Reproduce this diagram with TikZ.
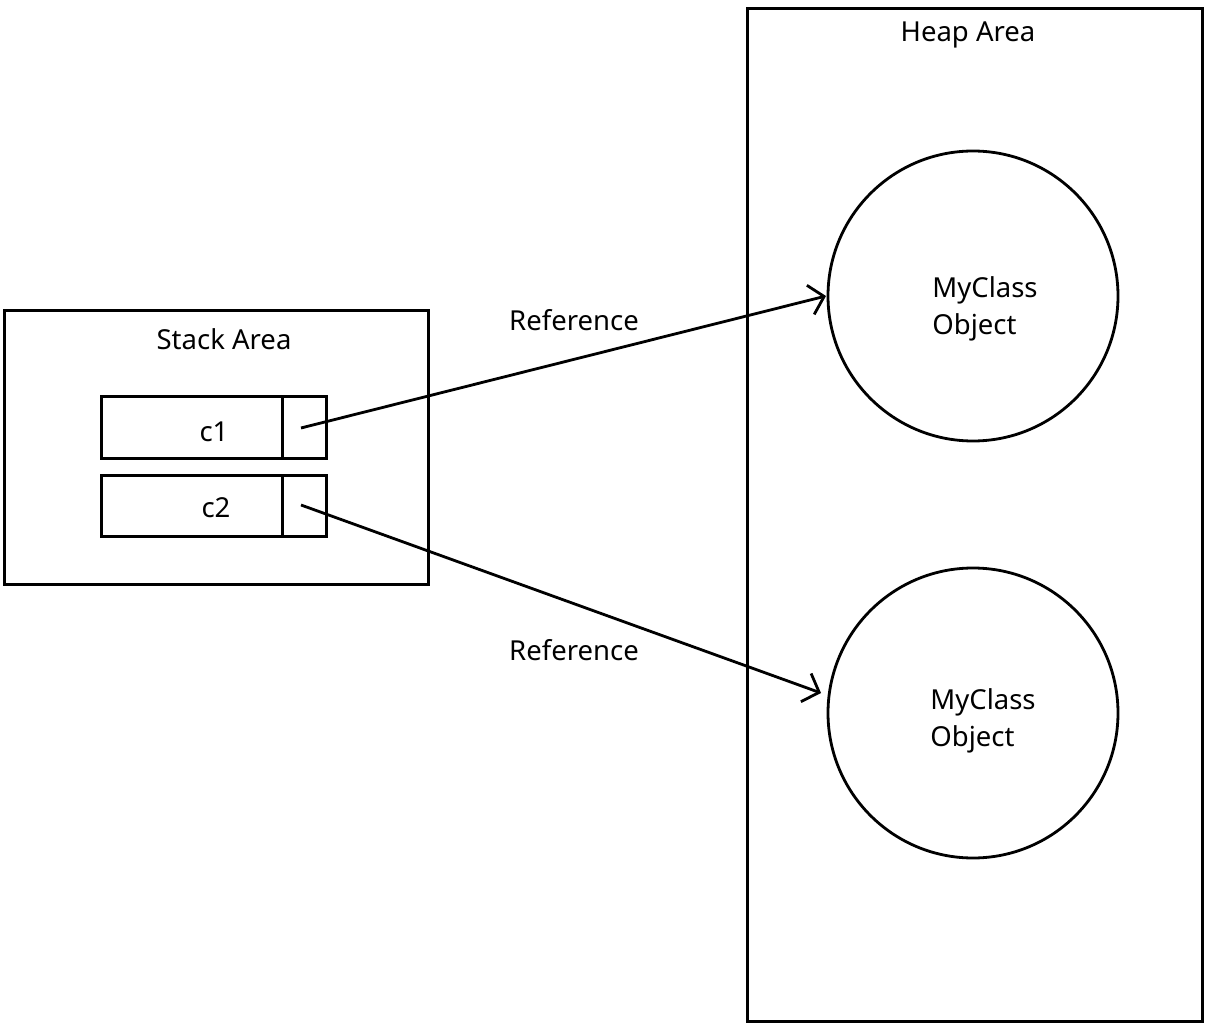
\documentclass[tikz,border=0pt]{standalone}
\usepackage{fontspec}
\setmainfont{Noto Sans}
\usetikzlibrary{arrows.meta}
\begin{document}
\begin{tikzpicture}[x=1pt,y=-1pt,
  frame/.style={draw=black,line width=2.8pt},
  lbl/.style={font=\fontsize{27.5}{37}\selectfont,inner sep=0pt},
  ref/.style={line width=2.8pt,-{Straight Barb[length=14pt,width=30pt,line width=2.8pt]}}]
\useasboundingbox[fill=white] (0,0) rectangle (1205,1024);
% heap area
\node[frame,minimum width=455pt,minimum height=1013pt,inner sep=0pt,anchor=north west] (heap) at (746,7) {};
\node[lbl] (heaptitle) at (968,35) {Heap Area};
\node[frame,circle,minimum size=290pt,inner sep=0pt] (obj1) at (973,296) {};
\node[frame,circle,minimum size=290pt,inner sep=0pt] (obj2) at (973,713) {};
\node[lbl,align=left] (obj1txt) at (985,309) {MyClass\\Object};
\node[lbl,align=left] (obj2txt) at (983,721) {MyClass\\Object};
% stack area
\node[frame,minimum width=424pt,minimum height=274pt,inner sep=0pt,anchor=north west] (stack) at (3,309) {};
\node[lbl] (stacktitle) at (224,339) {Stack Area};
\node[frame,minimum width=181pt,minimum height=62pt,inner sep=0pt,anchor=north west] (c1) at (100,395) {};
\node[frame,minimum width=44pt,minimum height=62pt,inner sep=0pt,anchor=north west] (c1p) at (281,395) {};
\node[frame,minimum width=181pt,minimum height=61pt,inner sep=0pt,anchor=north west] (c2) at (100,474) {};
\node[frame,minimum width=44pt,minimum height=61pt,inner sep=0pt,anchor=north west] (c2p) at (281,474) {};
\node[lbl] (c1txt) at (214,432) {c1};
\node[lbl] (c2txt) at (216,508) {c2};
% references
\coordinate (s1) at (301,428);
\coordinate (s2) at (301,505);
\coordinate (t1) at (826,296);
\coordinate (t2) at (821,693);
\draw[ref] (s1) -- (t1);
\draw[ref] (s2) -- (t2);
\node[lbl] (r1) at (574,320) {Reference};
\node[lbl] (r2) at (574,650) {Reference};
\end{tikzpicture}
\end{document}
